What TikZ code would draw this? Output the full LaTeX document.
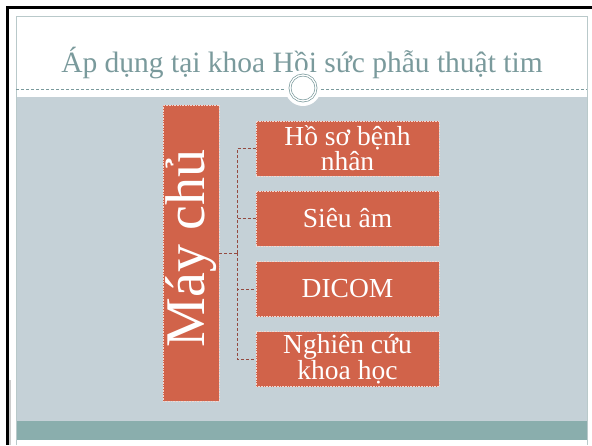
\documentclass[tikz,border=0pt]{standalone}
\usepackage{fontspec}
\setmainfont{Liberation Serif}
\definecolor{titlecol}{HTML}{7A9A9C}
\definecolor{bandgray}{HTML}{C5D1D7}
\definecolor{bandteal}{HTML}{8AAEAD}
\definecolor{boxfill}{HTML}{D1634A}
\definecolor{linkcol}{HTML}{944A40}
\definecolor{edgecol}{HTML}{B9C9CA}
\tikzset{
  itembox/.style={rectangle, fill=boxfill, draw=white!75!boxfill, densely dotted, line width=0.6pt,
    minimum width=183pt, minimum height=55pt, inner sep=0pt, align=center, text=white,
    font=\fontsize{27.5}{25}\selectfont},
  mainbox/.style={rectangle, fill=boxfill, draw=white!75!boxfill, densely dotted, line width=0.6pt,
    minimum width=56pt, minimum height=296pt, inner sep=0pt, text=white,
    font=\fontsize{56}{56}\selectfont},
  link/.style={draw=linkcol, densely dashed, line width=0.9pt}
}
\begin{document}
\begin{tikzpicture}[x=1pt, y=-1pt]
\useasboundingbox (0,0) rectangle (592,445);
% outer frame
\fill[white] (0,0) rectangle (592,445);
\fill[black] (6,6) rectangle (592,9);
\fill[black] (6,6) rectangle (9,445);
\fill[gray!40] (9,380) rectangle (10.5,445);
% slide
\fill[white] (16,16) rectangle (587,445);
\fill[bandgray] (16,97) rectangle (587,421);
\fill[bandteal] (16,421) rectangle (587,440);
\draw[edgecol, line width=0.8pt] (16,445) -- (16,16) -- (587,16) -- (587,445);
% title
\node (title) [text=titlecol, font=\fontsize{29.5}{29.5}\selectfont, anchor=base] at (302,72) {Áp dụng tại khoa Hồi sức phẫu thuật tim};
% separator
\coordinate (sepL) at (16,89);
\coordinate (sepR) at (587,89);
\draw[titlecol, densely dashed, line width=0.5pt] (sepL) -- (sepR);
\fill[white] (303,88) circle (18);
\node (ring) [circle, draw=titlecol, double=white, double distance=1.3pt, line width=0.7pt, minimum size=26pt, inner sep=0pt] at (303,88) {};
% boxes
\node (main) [mainbox] at (191,253) {\rotatebox{90}{\hspace{9pt}Máy chủ}};
\node (b1) [itembox] at (347.5,148.5) {Hồ sơ bệnh\\nhân};
\node (b2) [itembox] at (347.5,218.5) {Siêu âm};
\node (b3) [itembox] at (347.5,289) {DICOM};
\node (b4) [itembox] at (347.5,359) {Nghiên cứu\\khoa học};
% connectors
\coordinate (bus) at (237,253);
\draw[link] (main.east) -- (bus);
\draw[link] (bus) |- (b1.west);
\draw[link] (bus) |- (b2.west);
\draw[link] (bus) |- (b3.west);
\draw[link] (bus) |- (b4.west);
\end{tikzpicture}
\end{document}
